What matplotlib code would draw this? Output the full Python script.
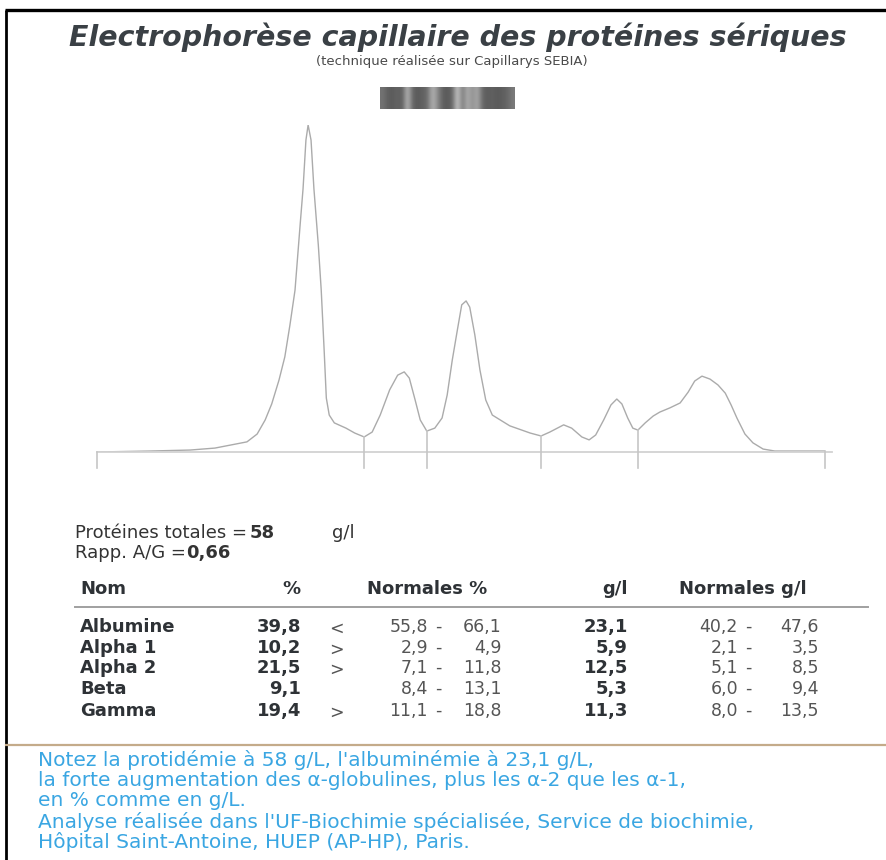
import matplotlib
matplotlib.use("Agg")
import matplotlib.pyplot as plt
import numpy as np

# electrophoregram trace (migration %, relative intensity %)
mig = [0, 7.3, 12.8, 16.2, 20.6, 22.0, 23.1, 24.0, 25.0, 25.8, 26.5, 27.2, 27.9, 28.3, 28.7, 29.0,
       29.4, 29.8, 30.4, 30.8, 31.2, 31.5, 31.9, 32.6, 34.2, 35.4, 36.7, 37.8, 38.9, 40.2, 41.3,
       42.2, 42.9, 43.7, 44.4, 45.3, 46.4, 47.4, 48.1, 48.8, 49.5, 50.1, 50.7, 51.2, 51.9, 52.6,
       53.4, 54.3, 56.7, 59.5, 61.0, 62.2, 64.1, 65.2, 66.6, 67.6, 68.5, 69.6, 70.6, 71.4, 72.1,
       72.9, 73.6, 74.3, 75.3, 76.4, 77.3, 78.7, 80.1, 81.2, 82.1, 83.1, 84.2, 85.3, 86.3, 87.1,
       87.9, 89.0, 90.1, 91.5, 93.1, 96.6, 100]
dens = [0, 0.3, 0.6, 1.2, 3.1, 5.5, 9.8, 14.7, 22.0, 29.1, 38.8, 49.5, 69.4, 80.4, 95.4, 100,
        95.4, 80.4, 63.3, 49.5, 31.2, 16.5, 11.3, 8.9, 7.3, 5.8, 4.6, 6.1, 11.3, 19.0, 23.5,
        24.5, 22.6, 15.9, 9.8, 6.4, 7.3, 10.4, 17.4, 28.1, 37.3, 45.0, 46.2, 44.3, 35.8, 25.1,
        15.9, 11.3, 8.0, 5.8, 4.9, 6.1, 8.3, 7.3, 4.6, 3.7, 5.2, 9.8, 14.4, 16.2, 14.7,
        10.4, 7.3, 6.7, 8.9, 11.0, 12.2, 13.5, 15.0, 18.3, 21.7, 23.2, 22.3, 20.5, 18.0, 14.4,
        10.4, 5.5, 2.8, 0.9, 0.3, 0.3, 0.3]
cuts = [36.7, 45.3, 61.0, 74.3]

# barcode blur (grey levels, left to right)
bars = [0.45, 0.38, 0.35, 0.40, 0.36, 0.75, 0.40, 0.35, 0.38, 0.42, 0.72, 0.55, 0.38, 0.35,
        0.40, 0.82, 0.45, 0.70, 0.55, 0.68, 0.40, 0.36, 0.38, 0.35, 0.37, 0.40, 0.48]

names = ["Albumine", "Alpha 1", "Alpha 2", "Beta", "Gamma"]
pct = [39.8, 10.2, 21.5, 9.1, 19.4]
flags = ["<", ">", ">", "", ">"]
norm_pct = [(55.8, 66.1), (2.9, 4.9), (7.1, 11.8), (8.4, 13.1), (11.1, 18.8)]
gl = [23.1, 5.9, 12.5, 5.3, 11.3]
norm_gl = [(40.2, 47.6), (2.1, 3.5), (5.1, 8.5), (6.0, 9.4), (8.0, 13.5)]

notes = ["Notez la protidémie à 58 g/L, l'albuminémie à 23,1 g/L,",
         "la forte augmentation des α-globulines, plus les α-2 que les α-1,",
         "en % comme en g/L.",
         "Analyse réalisée dans l'UF-Biochimie spécialisée, Service de biochimie,",
         "Hôpital Saint-Antoine, HUEP (AP-HP), Paris."]


def fr(v):
    return f"{v:.1f}".replace(".", ",")


fig = plt.figure(figsize=(8.86, 8.60), dpi=100)
fig.patch.set_facecolor("white")

page = fig.add_axes([0, 0, 1, 1])
page.set_xlim(0, 886)
page.set_ylim(860, 0)
page.axis("off")

# frame
page.plot([5, 886], [10, 10], color="black", lw=2.4, solid_capstyle="butt")
page.plot([6, 6], [10, 860], color="black", lw=2.0, solid_capstyle="butt")
page.plot([6, 886], [745, 745], color="#c4ab8a", lw=1.6)

page.text(458, 37, "Electrophorèse capillaire des protéines sériques", ha="center", va="center",
          fontsize=20.5, fontweight="bold", fontstyle="oblique", color="#3a4045",
          family="DejaVu Sans")
page.text(452, 62, "(technique réalisée sur Capillarys SEBIA)", ha="center", va="center",
          fontsize=9.5, color="#4a4a4a", family="DejaVu Sans")

page.imshow(np.array([bars]), cmap="gray", vmin=0, vmax=1, aspect="auto",
            interpolation="bicubic", extent=(380, 515, 109, 87))

# trace
ax = fig.add_axes([97 / 886, (860 - 452) / 860, 728 / 886, 327 / 860])
ax.set_xlim(0, 100)
ax.set_ylim(0, 100)
ax.axis("off")
ax.plot(mig, dens, color="#ababab", lw=1.0)
ax.plot([0, 101], [0, 0], color="#d2d2d2", lw=1.3, clip_on=False)
for c in [0] + cuts + [100]:
    top = np.interp(c, mig, dens)
    ax.plot([c, c], [top, -4.8], color="#c6c6c6", lw=1.2, clip_on=False)

# totals
txt = "#333333"
tk = dict(fontsize=13, color=txt, va="center", family="DejaVu Sans")
page.text(75, 533, "Protéines totales =", **tk)
page.text(250, 533, "58", fontweight="bold", **tk)
page.text(332, 533, "g/l", **tk)
page.text(75, 553, "Rapp. A/G =", **tk)
page.text(186, 553, "0,66", fontweight="bold", **tk)

# table
hk = dict(fontsize=13, color="#2e3236", va="center", fontweight="bold", family="DejaVu Sans")
page.text(80, 589, "Nom", **hk)
page.text(301, 589, "%", ha="right", **hk)
page.text(427, 589, "Normales %", ha="center", **hk)
page.text(628, 589, "g/l", ha="right", **hk)
page.text(743, 589, "Normales g/l", ha="center", **hk)
page.plot([75, 868], [607, 607], color="#a0a0a0", lw=1.4)

rows_y = [627, 648, 668, 689, 711]
bk = dict(fontsize=13, color="#2e3236", va="center", fontweight="bold", family="DejaVu Sans")
rk = dict(fontsize=12.5, color="#555555", va="center", family="DejaVu Sans")
for i, y in enumerate(rows_y):
    page.text(80, y, names[i], **bk)
    page.text(301, y, fr(pct[i]), ha="right", **bk)
    if flags[i]:
        page.text(336, y + 2, flags[i], ha="center", **rk)
    page.text(428, y, fr(norm_pct[i][0]), ha="right", **rk)
    page.text(438, y, "-", ha="center", **rk)
    page.text(502, y, fr(norm_pct[i][1]), ha="right", **rk)
    page.text(628, y, fr(gl[i]), ha="right", **bk)
    page.text(738, y, fr(norm_gl[i][0]), ha="right", **rk)
    page.text(748, y, "-", ha="center", **rk)
    page.text(819, y, fr(norm_gl[i][1]), ha="right", **rk)

# caption
for i, line in enumerate(notes):
    page.text(38, 760 + i * 20.5, line, fontsize=14.5, color="#3aa6e2", va="center",
              family="DejaVu Sans")

fig.savefig("out.png", dpi=100, facecolor="white")
